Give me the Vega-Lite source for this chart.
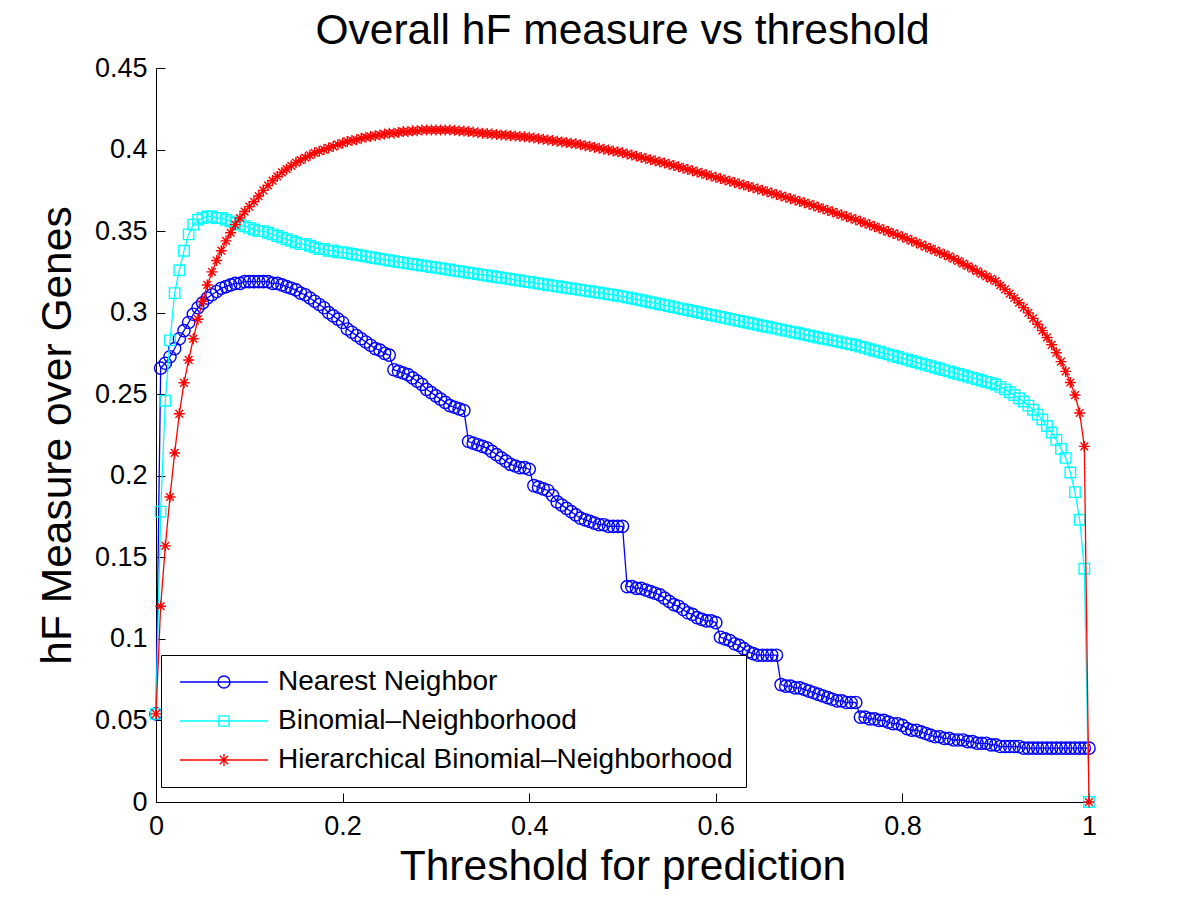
{
  "$schema": "https://vega.github.io/schema/vega-lite/v6.json",
  "autosize": "none",
  "padding": {"left": 156, "top": 68, "right": 111, "bottom": 100},
  "width": 933,
  "height": 734,
  "background": "white",
  "title": {"text": "Overall hF measure vs threshold", "fontSize": 42.5, "font": "Liberation Sans", "fontWeight": "normal", "color": "black", "anchor": "middle", "offset": 2},
  "datasets": {
    "nn": [
{"t":0,"v":0.054},{"t":0.005,"v":0.266},{"t":0.01,"v":0.269},{"t":0.015,"v":0.273},{"t":0.02,"v":0.278},{"t":0.025,"v":0.284},{"t":0.03,"v":0.289},{"t":0.035,"v":0.294},{"t":0.04,"v":0.299},{"t":0.045,"v":0.303},
{"t":0.05,"v":0.306},{"t":0.055,"v":0.309},{"t":0.06,"v":0.311},{"t":0.065,"v":0.313},{"t":0.07,"v":0.315},{"t":0.075,"v":0.316},{"t":0.08,"v":0.317},{"t":0.085,"v":0.318},{"t":0.09,"v":0.318},{"t":0.095,"v":0.319},
{"t":0.1,"v":0.319},{"t":0.105,"v":0.319},{"t":0.11,"v":0.319},{"t":0.115,"v":0.319},{"t":0.12,"v":0.319},{"t":0.125,"v":0.318},{"t":0.13,"v":0.318},{"t":0.135,"v":0.317},{"t":0.14,"v":0.316},{"t":0.145,"v":0.315},
{"t":0.15,"v":0.314},{"t":0.155,"v":0.312},{"t":0.16,"v":0.311},{"t":0.165,"v":0.309},{"t":0.17,"v":0.307},{"t":0.175,"v":0.305},{"t":0.18,"v":0.303},{"t":0.185,"v":0.3},{"t":0.19,"v":0.298},{"t":0.195,"v":0.296},
{"t":0.2,"v":0.294},{"t":0.205,"v":0.29},{"t":0.21,"v":0.288},{"t":0.215,"v":0.286},{"t":0.22,"v":0.284},{"t":0.225,"v":0.282},{"t":0.23,"v":0.28},{"t":0.235,"v":0.278},{"t":0.24,"v":0.277},{"t":0.245,"v":0.275},
{"t":0.25,"v":0.274},{"t":0.255,"v":0.265},{"t":0.26,"v":0.264},{"t":0.265,"v":0.263},{"t":0.27,"v":0.262},{"t":0.275,"v":0.26},{"t":0.28,"v":0.258},{"t":0.285,"v":0.256},{"t":0.29,"v":0.253},{"t":0.295,"v":0.251},
{"t":0.3,"v":0.249},{"t":0.305,"v":0.247},{"t":0.31,"v":0.245},{"t":0.315,"v":0.243},{"t":0.32,"v":0.242},{"t":0.325,"v":0.241},{"t":0.33,"v":0.24},{"t":0.335,"v":0.221},{"t":0.34,"v":0.22},{"t":0.345,"v":0.219},
{"t":0.35,"v":0.218},{"t":0.355,"v":0.217},{"t":0.36,"v":0.215},{"t":0.365,"v":0.213},{"t":0.37,"v":0.211},{"t":0.375,"v":0.209},{"t":0.38,"v":0.207},{"t":0.385,"v":0.206},{"t":0.39,"v":0.205},{"t":0.395,"v":0.205},
{"t":0.4,"v":0.204},{"t":0.405,"v":0.194},{"t":0.41,"v":0.193},{"t":0.415,"v":0.192},{"t":0.42,"v":0.191},{"t":0.425,"v":0.188},{"t":0.43,"v":0.184},{"t":0.435,"v":0.182},{"t":0.44,"v":0.18},{"t":0.445,"v":0.178},
{"t":0.45,"v":0.176},{"t":0.455,"v":0.174},{"t":0.46,"v":0.173},{"t":0.465,"v":0.172},{"t":0.47,"v":0.171},{"t":0.475,"v":0.17},{"t":0.48,"v":0.17},{"t":0.485,"v":0.169},{"t":0.49,"v":0.169},{"t":0.495,"v":0.169},
{"t":0.5,"v":0.169},{"t":0.505,"v":0.132},{"t":0.51,"v":0.132},{"t":0.515,"v":0.131},{"t":0.52,"v":0.131},{"t":0.525,"v":0.13},{"t":0.53,"v":0.129},{"t":0.535,"v":0.128},{"t":0.54,"v":0.127},{"t":0.545,"v":0.125},
{"t":0.55,"v":0.123},{"t":0.555,"v":0.121},{"t":0.56,"v":0.12},{"t":0.565,"v":0.118},{"t":0.57,"v":0.116},{"t":0.575,"v":0.115},{"t":0.58,"v":0.113},{"t":0.585,"v":0.112},{"t":0.59,"v":0.111},{"t":0.595,"v":0.111},
{"t":0.6,"v":0.11},{"t":0.605,"v":0.101},{"t":0.61,"v":0.1},{"t":0.615,"v":0.099},{"t":0.62,"v":0.097},{"t":0.625,"v":0.096},{"t":0.63,"v":0.094},{"t":0.635,"v":0.092},{"t":0.64,"v":0.091},{"t":0.645,"v":0.09},
{"t":0.65,"v":0.09},{"t":0.655,"v":0.09},{"t":0.66,"v":0.09},{"t":0.665,"v":0.09},{"t":0.67,"v":0.072},{"t":0.675,"v":0.071},{"t":0.68,"v":0.071},{"t":0.685,"v":0.07},{"t":0.69,"v":0.07},{"t":0.695,"v":0.069},
{"t":0.7,"v":0.068},{"t":0.705,"v":0.067},{"t":0.71,"v":0.066},{"t":0.715,"v":0.065},{"t":0.72,"v":0.064},{"t":0.725,"v":0.063},{"t":0.73,"v":0.062},{"t":0.735,"v":0.062},{"t":0.74,"v":0.061},{"t":0.745,"v":0.061},
{"t":0.75,"v":0.061},{"t":0.755,"v":0.052},{"t":0.76,"v":0.052},{"t":0.765,"v":0.051},{"t":0.77,"v":0.051},{"t":0.775,"v":0.05},{"t":0.78,"v":0.05},{"t":0.785,"v":0.049},{"t":0.79,"v":0.048},{"t":0.795,"v":0.048},
{"t":0.8,"v":0.047},{"t":0.805,"v":0.045},{"t":0.81,"v":0.044},{"t":0.815,"v":0.044},{"t":0.82,"v":0.043},{"t":0.825,"v":0.042},{"t":0.83,"v":0.041},{"t":0.835,"v":0.04},{"t":0.84,"v":0.04},{"t":0.845,"v":0.039},
{"t":0.85,"v":0.039},{"t":0.855,"v":0.038},{"t":0.86,"v":0.038},{"t":0.865,"v":0.038},{"t":0.87,"v":0.037},{"t":0.875,"v":0.037},{"t":0.88,"v":0.036},{"t":0.885,"v":0.036},{"t":0.89,"v":0.036},{"t":0.895,"v":0.035},
{"t":0.9,"v":0.035},{"t":0.905,"v":0.034},{"t":0.91,"v":0.034},{"t":0.915,"v":0.034},{"t":0.92,"v":0.034},{"t":0.925,"v":0.034},{"t":0.93,"v":0.033},{"t":0.935,"v":0.033},{"t":0.94,"v":0.033},{"t":0.945,"v":0.033},
{"t":0.95,"v":0.033},{"t":0.955,"v":0.033},{"t":0.96,"v":0.033},{"t":0.965,"v":0.033},{"t":0.97,"v":0.033},{"t":0.975,"v":0.033},{"t":0.98,"v":0.033},{"t":0.985,"v":0.033},{"t":0.99,"v":0.033},{"t":0.995,"v":0.033},
{"t":1,"v":0.033}
    ],
    "bn": [
{"t":0,"v":0.054},{"t":0.005,"v":0.178},{"t":0.01,"v":0.246},{"t":0.015,"v":0.283},{"t":0.02,"v":0.312},{"t":0.025,"v":0.326},{"t":0.03,"v":0.338},{"t":0.035,"v":0.348},{"t":0.04,"v":0.354},{"t":0.045,"v":0.357},
{"t":0.05,"v":0.358},{"t":0.055,"v":0.359},{"t":0.06,"v":0.359},{"t":0.065,"v":0.358},{"t":0.07,"v":0.358},{"t":0.075,"v":0.357},{"t":0.08,"v":0.356},{"t":0.085,"v":0.355},{"t":0.09,"v":0.354},{"t":0.095,"v":0.353},
{"t":0.1,"v":0.352},{"t":0.105,"v":0.351},{"t":0.11,"v":0.35},{"t":0.115,"v":0.35},{"t":0.12,"v":0.349},{"t":0.125,"v":0.348},{"t":0.13,"v":0.347},{"t":0.135,"v":0.346},{"t":0.14,"v":0.345},{"t":0.145,"v":0.344},
{"t":0.15,"v":0.343},{"t":0.155,"v":0.342},{"t":0.16,"v":0.342},{"t":0.165,"v":0.341},{"t":0.17,"v":0.34},{"t":0.175,"v":0.339},{"t":0.18,"v":0.339},{"t":0.185,"v":0.338},{"t":0.19,"v":0.338},{"t":0.195,"v":0.337},
{"t":0.2,"v":0.337},{"t":0.205,"v":0.3365},{"t":0.21,"v":0.336},{"t":0.215,"v":0.3355},{"t":0.22,"v":0.335},{"t":0.225,"v":0.3345},{"t":0.23,"v":0.334},{"t":0.235,"v":0.3335},{"t":0.24,"v":0.333},{"t":0.245,"v":0.3325},
{"t":0.25,"v":0.332},{"t":0.255,"v":0.3316},{"t":0.26,"v":0.3311},{"t":0.265,"v":0.3307},{"t":0.27,"v":0.3302},{"t":0.275,"v":0.3298},{"t":0.28,"v":0.3294},{"t":0.285,"v":0.3289},{"t":0.29,"v":0.3285},{"t":0.295,"v":0.328},
{"t":0.3,"v":0.3276},{"t":0.305,"v":0.3272},{"t":0.31,"v":0.3267},{"t":0.315,"v":0.3263},{"t":0.32,"v":0.3258},{"t":0.325,"v":0.3254},{"t":0.33,"v":0.325},{"t":0.335,"v":0.3245},{"t":0.34,"v":0.3241},{"t":0.345,"v":0.3236},
{"t":0.35,"v":0.3232},{"t":0.355,"v":0.3228},{"t":0.36,"v":0.3223},{"t":0.365,"v":0.3219},{"t":0.37,"v":0.3214},{"t":0.375,"v":0.321},{"t":0.38,"v":0.3206},{"t":0.385,"v":0.3201},{"t":0.39,"v":0.3197},{"t":0.395,"v":0.3192},
{"t":0.4,"v":0.3188},{"t":0.405,"v":0.3184},{"t":0.41,"v":0.3179},{"t":0.415,"v":0.3175},{"t":0.42,"v":0.317},{"t":0.425,"v":0.3166},{"t":0.43,"v":0.3162},{"t":0.435,"v":0.3157},{"t":0.44,"v":0.3153},{"t":0.445,"v":0.3148},
{"t":0.45,"v":0.3144},{"t":0.455,"v":0.314},{"t":0.46,"v":0.3135},{"t":0.465,"v":0.3131},{"t":0.47,"v":0.3126},{"t":0.475,"v":0.3122},{"t":0.48,"v":0.3118},{"t":0.485,"v":0.3113},{"t":0.49,"v":0.3109},{"t":0.495,"v":0.3104},
{"t":0.5,"v":0.31},{"t":0.505,"v":0.3094},{"t":0.51,"v":0.3088},{"t":0.515,"v":0.3082},{"t":0.52,"v":0.3076},{"t":0.525,"v":0.307},{"t":0.53,"v":0.3064},{"t":0.535,"v":0.3058},{"t":0.54,"v":0.3052},{"t":0.545,"v":0.3046},
{"t":0.55,"v":0.304},{"t":0.555,"v":0.3034},{"t":0.56,"v":0.3028},{"t":0.565,"v":0.3022},{"t":0.57,"v":0.3016},{"t":0.575,"v":0.301},{"t":0.58,"v":0.3004},{"t":0.585,"v":0.2998},{"t":0.59,"v":0.2992},{"t":0.595,"v":0.2986},
{"t":0.6,"v":0.298},{"t":0.605,"v":0.2974},{"t":0.61,"v":0.2968},{"t":0.615,"v":0.2962},{"t":0.62,"v":0.2956},{"t":0.625,"v":0.295},{"t":0.63,"v":0.2944},{"t":0.635,"v":0.2938},{"t":0.64,"v":0.2932},{"t":0.645,"v":0.2926},
{"t":0.65,"v":0.292},{"t":0.655,"v":0.2914},{"t":0.66,"v":0.2908},{"t":0.665,"v":0.2902},{"t":0.67,"v":0.2896},{"t":0.675,"v":0.289},{"t":0.68,"v":0.2884},{"t":0.685,"v":0.2878},{"t":0.69,"v":0.2872},{"t":0.695,"v":0.2866},
{"t":0.7,"v":0.286},{"t":0.705,"v":0.2854},{"t":0.71,"v":0.2848},{"t":0.715,"v":0.2842},{"t":0.72,"v":0.2836},{"t":0.725,"v":0.283},{"t":0.73,"v":0.2824},{"t":0.735,"v":0.2818},{"t":0.74,"v":0.2812},{"t":0.745,"v":0.2806},
{"t":0.75,"v":0.28},{"t":0.755,"v":0.2792},{"t":0.76,"v":0.2784},{"t":0.765,"v":0.2776},{"t":0.77,"v":0.2768},{"t":0.775,"v":0.276},{"t":0.78,"v":0.2752},{"t":0.785,"v":0.2744},{"t":0.79,"v":0.2736},{"t":0.795,"v":0.2728},
{"t":0.8,"v":0.272},{"t":0.805,"v":0.2712},{"t":0.81,"v":0.2704},{"t":0.815,"v":0.2696},{"t":0.82,"v":0.2688},{"t":0.825,"v":0.268},{"t":0.83,"v":0.2672},{"t":0.835,"v":0.2664},{"t":0.84,"v":0.2656},{"t":0.845,"v":0.2648},
{"t":0.85,"v":0.264},{"t":0.855,"v":0.2632},{"t":0.86,"v":0.2624},{"t":0.865,"v":0.2616},{"t":0.87,"v":0.2608},{"t":0.875,"v":0.26},{"t":0.88,"v":0.2592},{"t":0.885,"v":0.2584},{"t":0.89,"v":0.2576},{"t":0.895,"v":0.2568},
{"t":0.9,"v":0.256},{"t":0.905,"v":0.2545},{"t":0.91,"v":0.253},{"t":0.915,"v":0.2512},{"t":0.92,"v":0.2495},{"t":0.925,"v":0.2475},{"t":0.93,"v":0.2455},{"t":0.935,"v":0.243},{"t":0.94,"v":0.2405},{"t":0.945,"v":0.2375},
{"t":0.95,"v":0.2345},{"t":0.955,"v":0.2305},{"t":0.96,"v":0.2265},{"t":0.965,"v":0.222},{"t":0.97,"v":0.2165},{"t":0.975,"v":0.211},{"t":0.98,"v":0.202},{"t":0.985,"v":0.19},{"t":0.99,"v":0.173},{"t":0.995,"v":0.143},
{"t":1,"v":0}
    ],
    "hb": [
{"t":0,"v":0.054},{"t":0.005,"v":0.12},{"t":0.01,"v":0.157},{"t":0.015,"v":0.187},{"t":0.02,"v":0.214},{"t":0.025,"v":0.238},{"t":0.03,"v":0.257},{"t":0.035,"v":0.271},{"t":0.04,"v":0.284},{"t":0.045,"v":0.296},
{"t":0.05,"v":0.307},{"t":0.055,"v":0.317},{"t":0.06,"v":0.325},{"t":0.065,"v":0.332},{"t":0.07,"v":0.338},{"t":0.075,"v":0.344},{"t":0.08,"v":0.349},{"t":0.085,"v":0.354},{"t":0.09,"v":0.358},{"t":0.095,"v":0.362},
{"t":0.1,"v":0.365},{"t":0.105,"v":0.368},{"t":0.11,"v":0.3715},{"t":0.115,"v":0.375},{"t":0.12,"v":0.378},{"t":0.125,"v":0.381},{"t":0.13,"v":0.3835},{"t":0.135,"v":0.386},{"t":0.14,"v":0.388},{"t":0.145,"v":0.39},
{"t":0.15,"v":0.392},{"t":0.155,"v":0.3935},{"t":0.16,"v":0.395},{"t":0.165,"v":0.3965},{"t":0.17,"v":0.398},{"t":0.175,"v":0.399},{"t":0.18,"v":0.4},{"t":0.185,"v":0.401},{"t":0.19,"v":0.402},{"t":0.195,"v":0.403},
{"t":0.2,"v":0.404},{"t":0.205,"v":0.405},{"t":0.21,"v":0.4055},{"t":0.215,"v":0.406},{"t":0.22,"v":0.407},{"t":0.225,"v":0.4075},{"t":0.23,"v":0.408},{"t":0.235,"v":0.4085},{"t":0.24,"v":0.409},{"t":0.245,"v":0.4095},
{"t":0.25,"v":0.41},{"t":0.255,"v":0.41},{"t":0.26,"v":0.4105},{"t":0.265,"v":0.411},{"t":0.27,"v":0.411},{"t":0.275,"v":0.4115},{"t":0.28,"v":0.4115},{"t":0.285,"v":0.412},{"t":0.29,"v":0.412},{"t":0.295,"v":0.412},
{"t":0.3,"v":0.412},{"t":0.305,"v":0.412},{"t":0.31,"v":0.412},{"t":0.315,"v":0.412},{"t":0.32,"v":0.4118},{"t":0.325,"v":0.4115},{"t":0.33,"v":0.4113},{"t":0.335,"v":0.411},{"t":0.34,"v":0.4107},{"t":0.345,"v":0.4103},
{"t":0.35,"v":0.41},{"t":0.355,"v":0.4098},{"t":0.36,"v":0.4095},{"t":0.365,"v":0.4093},{"t":0.37,"v":0.409},{"t":0.375,"v":0.4088},{"t":0.38,"v":0.4085},{"t":0.385,"v":0.4083},{"t":0.39,"v":0.408},{"t":0.395,"v":0.4078},
{"t":0.4,"v":0.4075},{"t":0.405,"v":0.4071},{"t":0.41,"v":0.4067},{"t":0.415,"v":0.4063},{"t":0.42,"v":0.4059},{"t":0.425,"v":0.4055},{"t":0.43,"v":0.4051},{"t":0.435,"v":0.4047},{"t":0.44,"v":0.4043},{"t":0.445,"v":0.4039},
{"t":0.45,"v":0.4035},{"t":0.455,"v":0.403},{"t":0.46,"v":0.4024},{"t":0.465,"v":0.4019},{"t":0.47,"v":0.4013},{"t":0.475,"v":0.4008},{"t":0.48,"v":0.4002},{"t":0.485,"v":0.3997},{"t":0.49,"v":0.3991},{"t":0.495,"v":0.3986},
{"t":0.5,"v":0.398},{"t":0.505,"v":0.3973},{"t":0.51,"v":0.3966},{"t":0.515,"v":0.3959},{"t":0.52,"v":0.3952},{"t":0.525,"v":0.3945},{"t":0.53,"v":0.3938},{"t":0.535,"v":0.3931},{"t":0.54,"v":0.3924},{"t":0.545,"v":0.3917},
{"t":0.55,"v":0.391},{"t":0.555,"v":0.3902},{"t":0.56,"v":0.3894},{"t":0.565,"v":0.3886},{"t":0.57,"v":0.3878},{"t":0.575,"v":0.387},{"t":0.58,"v":0.3862},{"t":0.585,"v":0.3854},{"t":0.59,"v":0.3846},{"t":0.595,"v":0.3838},
{"t":0.6,"v":0.383},{"t":0.605,"v":0.3822},{"t":0.61,"v":0.3814},{"t":0.615,"v":0.3806},{"t":0.62,"v":0.3798},{"t":0.625,"v":0.379},{"t":0.63,"v":0.3782},{"t":0.635,"v":0.3774},{"t":0.64,"v":0.3766},{"t":0.645,"v":0.3758},
{"t":0.65,"v":0.375},{"t":0.655,"v":0.3742},{"t":0.66,"v":0.3733},{"t":0.665,"v":0.3725},{"t":0.67,"v":0.3716},{"t":0.675,"v":0.3708},{"t":0.68,"v":0.3699},{"t":0.685,"v":0.3691},{"t":0.69,"v":0.3682},{"t":0.695,"v":0.3674},
{"t":0.7,"v":0.3665},{"t":0.705,"v":0.3656},{"t":0.71,"v":0.3646},{"t":0.715,"v":0.3637},{"t":0.72,"v":0.3627},{"t":0.725,"v":0.3618},{"t":0.73,"v":0.3608},{"t":0.735,"v":0.3599},{"t":0.74,"v":0.3589},{"t":0.745,"v":0.358},
{"t":0.75,"v":0.357},{"t":0.755,"v":0.356},{"t":0.76,"v":0.3549},{"t":0.765,"v":0.3539},{"t":0.77,"v":0.3528},{"t":0.775,"v":0.3518},{"t":0.78,"v":0.3507},{"t":0.785,"v":0.3497},{"t":0.79,"v":0.3486},{"t":0.795,"v":0.3476},
{"t":0.8,"v":0.3465},{"t":0.805,"v":0.3453},{"t":0.81,"v":0.3441},{"t":0.815,"v":0.3429},{"t":0.82,"v":0.3417},{"t":0.825,"v":0.3405},{"t":0.83,"v":0.3393},{"t":0.835,"v":0.3381},{"t":0.84,"v":0.3369},{"t":0.845,"v":0.3357},
{"t":0.85,"v":0.3345},{"t":0.855,"v":0.3331},{"t":0.86,"v":0.3316},{"t":0.865,"v":0.3301},{"t":0.87,"v":0.3286},{"t":0.875,"v":0.327},{"t":0.88,"v":0.3254},{"t":0.885,"v":0.3238},{"t":0.89,"v":0.3222},{"t":0.895,"v":0.3208},
{"t":0.9,"v":0.3193},{"t":0.905,"v":0.3168},{"t":0.91,"v":0.3143},{"t":0.915,"v":0.3117},{"t":0.92,"v":0.309},{"t":0.925,"v":0.3061},{"t":0.93,"v":0.3031},{"t":0.935,"v":0.2999},{"t":0.94,"v":0.2965},{"t":0.945,"v":0.2929},
{"t":0.95,"v":0.289},{"t":0.955,"v":0.2848},{"t":0.96,"v":0.2803},{"t":0.965,"v":0.2754},{"t":0.97,"v":0.27},{"t":0.975,"v":0.264},{"t":0.98,"v":0.2572},{"t":0.985,"v":0.2495},{"t":0.99,"v":0.2385},{"t":0.995,"v":0.218},
{"t":1,"v":0}
    ]
  },
  "encoding": {
    "x": {"field": "t", "type": "quantitative", "scale": {"domain": [0, 1], "nice": false},
      "axis": {"values": [0, 0.2, 0.4, 0.6, 0.8, 1], "format": "~g", "title": "Threshold for prediction", "tickSize": -9, "labelPadding": 20, "titlePadding": 6}},
    "y": {"field": "v", "type": "quantitative", "scale": {"domain": [0, 0.45], "nice": false},
      "axis": {"values": [0, 0.05, 0.1, 0.15, 0.2, 0.25, 0.3, 0.35, 0.4, 0.45], "format": "~g", "title": "hF Measure over Genes", "tickSize": -9, "labelPadding": 18, "titlePadding": 15}}
  },
  "layer": [
    {"data": {"name": "nn"}, "mark": {"type": "line", "strokeWidth": 1.3},
     "encoding": {"color": {"datum": "Nearest Neighbor", "type": "nominal",
       "scale": {"domain": ["Nearest Neighbor", "Binomial–Neighborhood", "Hierarchical Binomial–Neighborhood"], "range": ["#0000ff", "#00ffff", "#ff0000"]},
       "legend": {"title": null, "orient": "none", "legendX": 5, "legendY": 587, "strokeColor": "black", "fillColor": "white", "padding": 13,
         "labelFont": "Liberation Sans", "labelFontSize": 28, "labelColor": "black", "labelLimit": 0, "symbolOffset": 36, "labelOffset": 40, "rowPadding": 11,
         "symbolSize": 144, "symbolStrokeWidth": 1.4, "symbolType": "circle",
         "encode": {"symbols": {"update": {
           "shape": {"signal": "datum.index === 0 ? 'M-7.33,0L7.33,0M-1,0A1,1,0,1,0,1,0A1,1,0,1,0,-1,0' : datum.index === 1 ? 'M-7.33,0L7.33,0M-0.85,-0.85L0.85,-0.85L0.85,0.85L-0.85,0.85Z' : 'M-7.33,0L7.33,0M0,-1L0,1M-0.7,-0.7L0.7,0.7M-0.7,0.7L0.7,-0.7'"},
           "fill": {"value": "transparent"}, "size": {"value": 144}, "strokeWidth": {"value": 1.4}, "opacity": {"value": 1}}}}}}}},
    {"data": {"name": "nn"}, "mark": {"type": "point", "shape": "circle", "filled": false, "size": 150, "strokeWidth": 1.4, "opacity": 1},
     "encoding": {"color": {"datum": "Nearest Neighbor", "type": "nominal"}}},
    {"data": {"name": "bn"}, "mark": {"type": "line", "strokeWidth": 1.3},
     "encoding": {"color": {"datum": "Binomial–Neighborhood", "type": "nominal"}}},
    {"data": {"name": "bn"}, "mark": {"type": "point", "shape": "square", "filled": false, "size": 110, "strokeWidth": 1.4, "opacity": 1},
     "encoding": {"color": {"datum": "Binomial–Neighborhood", "type": "nominal"}}},
    {"data": {"name": "hb"}, "mark": {"type": "line", "strokeWidth": 1.3},
     "encoding": {"color": {"datum": "Hierarchical Binomial–Neighborhood", "type": "nominal"}}},
    {"data": {"name": "hb"}, "mark": {"type": "point", "shape": "M0,-1L0,1M-1,0L1,0M-0.7,-0.7L0.7,0.7M-0.7,0.7L0.7,-0.7", "filled": false, "size": 121, "strokeWidth": 1.4, "opacity": 1},
     "encoding": {"color": {"datum": "Hierarchical Binomial–Neighborhood", "type": "nominal"}}}
  ],
  "config": {
    "font": "Liberation Sans",
    "view": {"stroke": null},
    "axis": {"grid": false, "domainColor": "black", "domainWidth": 1, "tickColor": "black", "tickWidth": 1, "labelColor": "black", "titleColor": "black",
      "labelFont": "Liberation Sans", "labelFontSize": 27, "titleFont": "Liberation Sans", "titleFontSize": 42.5, "titleFontWeight": "normal", "labelFlush": false, "labelOverlap": false}
  }
}
